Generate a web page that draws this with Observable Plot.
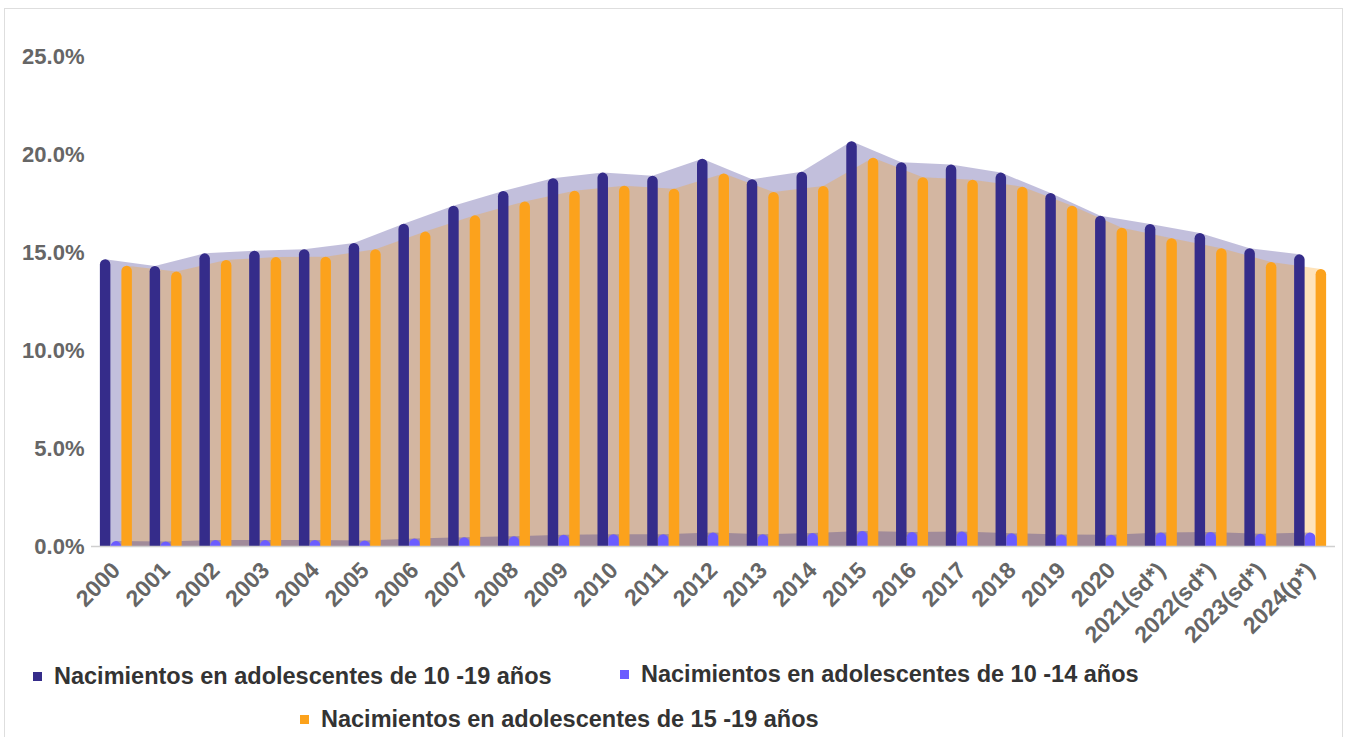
<!DOCTYPE html>
<html>
<head>
<meta charset="utf-8">
<script src="https://cdn.jsdelivr.net/npm/d3@7"></script>
<script src="https://cdn.jsdelivr.net/npm/@observablehq/plot@0.6"></script>
<style>
  html, body { margin: 0; padding: 0; background: #fff; }
  #wrap { position: relative; width: 1349px; height: 737px; overflow: hidden; font-family: "Liberation Sans", Arial, sans-serif; }
  #frame { position: absolute; left: 4px; top: 8px; width: 1339px; height: 740px; border: 1.5px solid #dedede; box-sizing: border-box; }
  #chart { position: absolute; left: 0; top: 0; }
  .leg { position: absolute; font-size: 23.5px; line-height: 23.5px; font-weight: bold; color: #333; white-space: nowrap; }
  .leg i { position: absolute; width: 9px; height: 9px; left: -21px; top: 7px; }
</style>
</head>
<body>
<div id="wrap">
  <div id="frame"></div>
  <div id="chart"></div>
</div>
<script>
const years = ["2000","2001","2002","2003","2004","2005","2006","2007","2008","2009","2010","2011","2012","2013","2014","2015","2016","2017","2018","2019","2020","2021(sd*)","2022(sd*)","2023(sd*)","2024(p*)"];
const total10_19 = [14.63,14.29,14.93,15.07,15.14,15.46,16.44,17.36,18.11,18.76,19.05,18.89,19.76,18.71,19.10,20.65,19.58,19.46,19.05,18.01,16.85,16.43,15.97,15.19,14.88];
const young10_14 = [0.25,0.23,0.30,0.30,0.31,0.28,0.38,0.45,0.50,0.57,0.60,0.60,0.69,0.60,0.66,0.77,0.72,0.74,0.65,0.59,0.57,0.69,0.72,0.63,0.69];
const older15_19 = [14.30,14.00,14.59,14.74,14.76,15.14,16.04,16.87,17.58,18.13,18.38,18.23,19.01,18.06,18.37,19.81,18.81,18.69,18.33,17.36,16.24,15.70,15.19,14.49,14.13];
const yTicks = [0, 5, 10, 15, 20, 25];
const seriesNames = ["Nacimientos en adolescentes de 10 -19 años", "Nacimientos en adolescentes de 10 -14 años", "Nacimientos en adolescentes de 15 -19 años"];
const colors = ["#352c8a", "#6b5cff", "#fca21c"];

const rows = (vals) => vals.map((v, i) => ({i, v, year: years[i]}));
const dTotal = rows(total10_19), dYoung = rows(young10_14), dOlder = rows(older15_19);

const W = 1349, ML = 91, MR = 14;
const unitPx = (W - ML - MR) / years.length;
const hw = 10.5 / unitPx / 2;      // half bar width in index units
const off = 10.75 / unitPx;        // offset between series in index units

const bars = (data, o, color) => Plot.rect(data, {
  x1: d => d.i + o - hw, x2: d => d.i + o + hw,
  y1: -0.4, y2: d => d.v, fill: color, rx: 5.25, clip: true
});

const chart = Plot.plot({
  width: W, height: 650,
  marginLeft: ML, marginRight: MR, marginTop: 56, marginBottom: 104,
  style: {fontFamily: "'Liberation Sans', Arial, sans-serif", fontWeight: "bold", fontSize: "22px", color: "#666", background: "transparent"},
  x: {type: "linear", domain: [-0.5, years.length - 0.5]},
  y: {domain: [0, 25]},
  marks: [
    Plot.areaY(dTotal, {x: d => d.i - off, y: "v", fill: colors[0], fillOpacity: 0.3}),
    Plot.areaY(dOlder, {x: d => d.i + off, y: "v", fill: colors[2], fillOpacity: 0.3}),
    Plot.areaY(dYoung, {x: "i", y: "v", fill: colors[0], fillOpacity: 0.31}),
    bars(dTotal, -off, colors[0]),
    bars(dYoung, 0, colors[1]),
    bars(dOlder, off, colors[2]),
    Plot.ruleY([0], {stroke: "#cfcfcf", strokeWidth: 1.5}),
    Plot.axisY({ticks: yTicks, tickFormat: d => d.toFixed(1) + "%", tickSize: 0, tickPadding: 7, label: null}),
    Plot.axisX({ticks: years.map((_, i) => i), tickFormat: i => years[i], tickRotate: -45, tickSize: 0, tickPadding: 20, fontSize: 23, label: null})
  ]
});
document.getElementById("chart").appendChild(chart);

const legendPos = [{left: 54, top: 665}, {left: 641, top: 663}, {left: 321, top: 708}];
const wrap = document.getElementById("wrap");
seriesNames.forEach((name, k) => {
  const el = document.createElement("div");
  el.className = "leg";
  el.style.left = legendPos[k].left + "px";
  el.style.top = legendPos[k].top + "px";
  const sw = document.createElement("i");
  sw.style.background = colors[k];
  el.appendChild(sw);
  el.appendChild(document.createTextNode(name));
  wrap.appendChild(el);
});
</script>
</body>
</html>
